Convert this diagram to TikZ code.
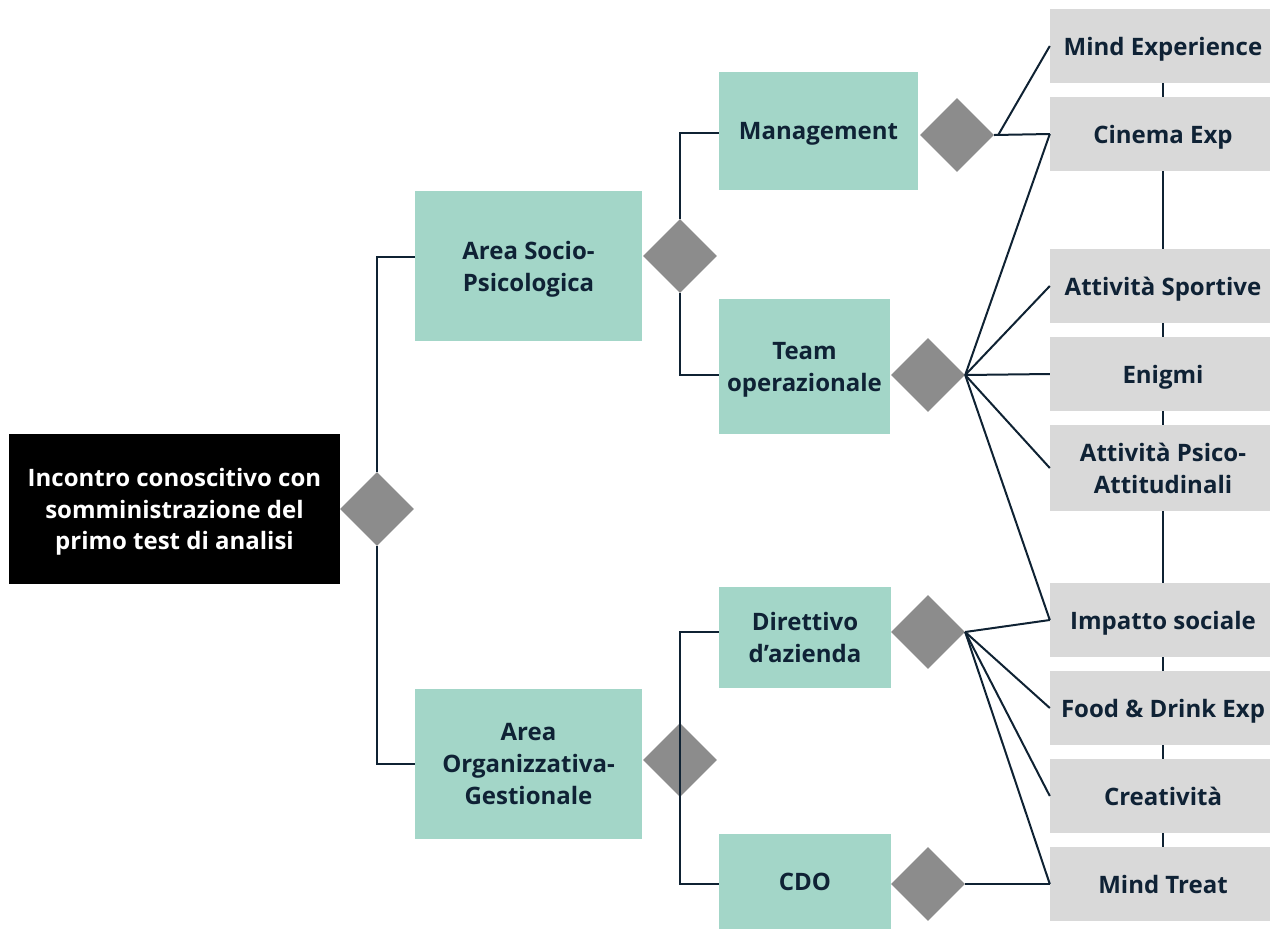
\documentclass[tikz,border=0pt]{standalone}
\usepackage{fontspec}
\setmainfont{Open Sans}
\usetikzlibrary{shapes.geometric,backgrounds}
\definecolor{tealbox}{HTML}{A3D6C8}
\definecolor{graybox}{HTML}{D9D9D9}
\definecolor{diag}{HTML}{8C8C8C}
\definecolor{txt}{HTML}{0F2235}
\definecolor{wire}{HTML}{0F2233}
\begin{document}
\begin{tikzpicture}[x=1pt,y=-1pt,
  lbl/.style={rectangle, inner sep=0pt, align=center, text depth=0pt, font=\fontsize{24}{32}\selectfont\bfseries, text=txt},
  rootbox/.style={lbl, fill=black, text=white, font=\fontsize{24}{31.5}\selectfont\bfseries},
  tealnode/.style={lbl, fill=tealbox},
  graynode/.style={lbl, fill=graybox, minimum width=226pt, minimum height=74pt},
  dia/.style={diamond, fill=diag, inner sep=0pt, minimum width=74pt, minimum height=74pt},
  wireline/.style={draw=wire, line width=2pt}]
\useasboundingbox (0,0) rectangle (1270,930);

% main boxes
\node[rootbox, minimum width=331pt, minimum height=150pt] (root) at (174.5,509) {Incontro conoscitivo con\\somministrazione del\\primo test di analisi};
\node[tealnode, minimum width=227pt, minimum height=150pt] (aS) at (528.5,266) {Area Socio-\\Psicologica};
\node[tealnode, minimum width=227pt, minimum height=150pt] (aO) at (528.5,764) {Area\\Organizzativa-\\Gestionale};
\node[tealnode, minimum width=199pt, minimum height=118pt] (mg) at (818.5,131) {Management};
\node[tealnode, minimum width=171pt, minimum height=135pt] (tm) at (804.5,366.5) {Team\\operazionale};
\node[tealnode, minimum width=172pt, minimum height=101pt] (dr) at (805,637.5) {Direttivo\\d’azienda};
\node[tealnode, minimum width=172pt, minimum height=95pt] (cdo) at (805,881.5) {CDO};

% diamonds
\node[dia] (d0) at (377,509) {};
\node[dia] (d1) at (680,256) {};
\node[dia] (d2) at (680,760) {};
\node[dia] (dmg) at (957,135) {};
\node[dia] (dtm) at (928,375) {};
\node[dia] (ddr) at (928,632) {};
\node[dia] (dcdo) at (928,884) {};

% right column
\node[graynode] (me) at (1163,46) {Mind Experience};
\node[graynode] (ce) at (1163,134) {Cinema Exp};
\node[graynode] (as) at (1163,286) {Attività Sportive};
\node[graynode] (en) at (1163,374) {Enigmi};
\node[graynode, minimum height=86pt] (ap) at (1163,468) {Attività Psico-\\Attitudinali};
\node[graynode] (is) at (1163,620) {Impatto sociale};
\node[graynode] (fd) at (1163,708) {Food \& Drink Exp};
\node[graynode] (cr) at (1163,796) {Creatività};
\node[graynode] (mt) at (1163,884) {Mind Treat};

\begin{pgfonlayer}{background}
  \draw[wireline] ([yshift=9pt]aS.west) -| (d0.north);
  \draw[wireline] (d0.south) |- (aO.west);
  \draw[wireline] (d1.north) |- ([yshift=-2pt]mg.west);
  \draw[wireline] (d1.south) |- (tm.west |- dtm.center);
  \draw[wireline] (me.center) -- (mt.center);
\end{pgfonlayer}

% line over the lower branching diamond
\draw[wireline] (dr.west |- ddr.center) -| (d2.center) |- (cdo.west |- dcdo.center);

% connectors to the right column
\draw[wireline] ([xshift=4pt]dmg.east) -- (me.west);
\draw[wireline] (dmg.east) -- (ce.west);
\draw[wireline] (dtm.east) -- (ce.west);
\draw[wireline] (dtm.east) -- (as.west);
\draw[wireline] (dtm.east) -- (en.west);
\draw[wireline] (dtm.east) -- (ap.west);
\draw[wireline] (dtm.east) -- (is.west);
\draw[wireline] (ddr.east) -- (is.west);
\draw[wireline] (ddr.east) -- (fd.west);
\draw[wireline] (ddr.east) -- (cr.west);
\draw[wireline] (ddr.east) -- (mt.west);
\draw[wireline] (dcdo.east) -- (mt.west);
\end{tikzpicture}
\end{document}
